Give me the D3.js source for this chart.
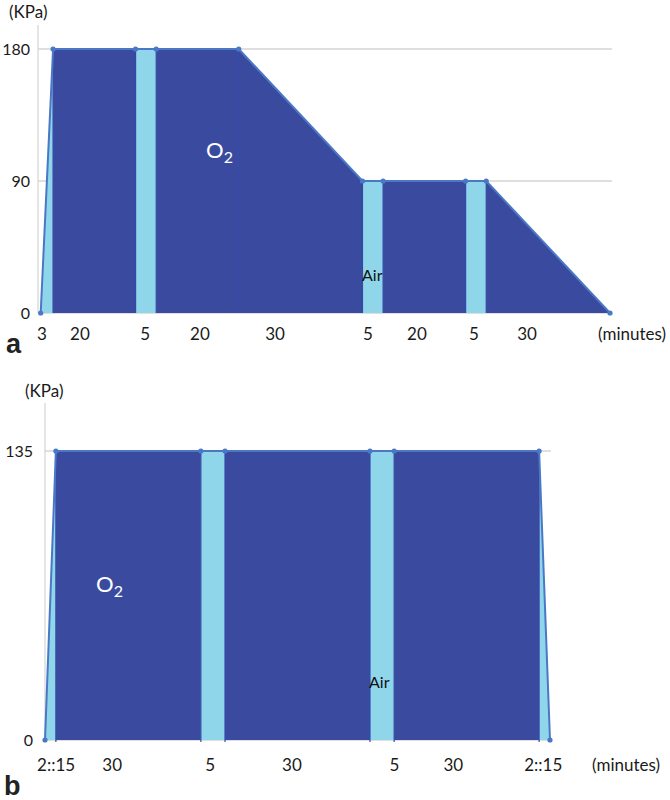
<!DOCTYPE html>
<html><head><meta charset="utf-8">
<script src="https://cdn.jsdelivr.net/npm/d3@7"></script>
<style>
body{margin:0;background:#fff;}
text{font-family:Lato,"Open Sans",sans-serif;}
</style></head>
<body><svg id="c" width="670" height="800"></svg>
<script>
// ---- Panel a data ----
const durationsA = [3, 20, 5, 20, 30, 5, 20, 5, 30];           // minutes
const pressuresA = [0, 180, 180, 180, 180, 90, 90, 90, 90, 0];  // KPa at each vertex
const gasA = ["Air","O2","Air","O2","O2","Air","O2","Air","O2"];
const labelsA = ["3","20","5","20","30","5","20","5","30"];
const labelAtA = [0.3, 9.5, 25.3, 38.6, 56.8, 79.3, 91.2, 105, 117.9]; // minutes
const yTicksA = [0, 90, 180];

// ---- Panel b data ----
const durationsB = [2.25, 30, 5, 30, 5, 30, 2.25];
const pressuresB = [0, 135, 135, 135, 135, 135, 135, 0];
const gasB = ["Air","O2","Air","O2","Air","O2","Air"];
const labelsB = ["2::15","30","5","30","5","30","2::15"];
const labelAtB = [2.3, 13.9, 34.2, 51.1, 72.3, 84.5, 103.1];
const yTicksB = [0, 135];

const DARK = "#3a4b9f", LIGHT = "#8fd6ea", EDGE = "#4b78c6", GRID = "#d4d4d4";
const FS = 17;
const svg = d3.select("#c");

function panel(cfg){
  const times = [0, ...d3.cumsum(cfg.durations)];
  const total = times[times.length-1];
  const x = d3.scaleLinear().domain([0,total]).range([cfg.x0, cfg.x1]);
  const y = d3.scaleLinear().domain([0,cfg.ymax]).range([cfg.y0, cfg.y1]);
  const g = svg.append("g");

  g.append("line").attr("x1",cfg.axisX).attr("x2",cfg.axisX)
    .attr("y1",cfg.axisTop).attr("y2",y(0)).attr("stroke",GRID).attr("stroke-width",1.2);
  g.selectAll("line.grid").data(cfg.yTicks).join("line").attr("class","grid")
    .attr("x1",cfg.axisX).attr("x2",cfg.gridEnd)
    .attr("y1",d=>y(d)).attr("y2",d=>y(d)).attr("stroke",GRID).attr("stroke-width",1.5);

  const area = d3.area().x(d=>x(d[0])).y0(y(0)).y1(d=>y(d[1]));
  cfg.durations.forEach((d,i)=>{
    g.append("path")
      .attr("d", area([[times[i],cfg.pressures[i]],[times[i+1],cfg.pressures[i+1]]]))
      .attr("fill", cfg.gas[i]==="Air" ? LIGHT : DARK);
  });
  g.selectAll("line.edge").data(times.slice(1,-1)).join("line").attr("class","edge")
    .attr("x1",d=>x(d)).attr("x2",d=>x(d))
    .attr("y1",(d,i)=>y(cfg.pressures[i+1])).attr("y2",y(0)+cfg.edgeExt)
    .attr("stroke","#3448a8").attr("stroke-width",1.2);
  const pts = times.map((t,i)=>[t,cfg.pressures[i]]);
  g.append("path").attr("d", d3.line().x(d=>x(d[0])).y(d=>y(d[1]))(pts))
    .attr("fill","none").attr("stroke",EDGE).attr("stroke-width",2);
  g.selectAll("circle").data(pts).join("circle")
    .attr("cx",d=>x(d[0])).attr("cy",d=>y(d[1])).attr("r",2.6).attr("fill",EDGE);

  g.selectAll("text.yt").data(cfg.yTicks).join("text").attr("class","yt")
    .attr("x",cfg.yLabelX).attr("y",d=>y(d)+6).attr("text-anchor","end")
    .attr("font-size",16).attr("fill","#1a1a1a").text(d=>d);
  g.append("text").attr("x",cfg.unitX).attr("y",cfg.unitY).attr("font-size",FS)
    .attr("fill","#1a1a1a").text("(KPa)");

  g.selectAll("text.xl").data(cfg.labels).join("text").attr("class","xl")
    .attr("x",(d,i)=>x(cfg.labelAt[i])).attr("y",cfg.xLabelY).attr("text-anchor","middle")
    .attr("font-size",FS).attr("fill","#1a1a1a").text(d=>d);
  g.append("text").attr("x",cfg.minutesX).attr("y",cfg.xLabelY).attr("font-size",FS)
    .attr("fill","#1a1a1a").text("(minutes)");

  const o = g.append("text").attr("x",cfg.o2[0]).attr("y",cfg.o2[1]).attr("font-size",22).attr("fill","#fff");
  o.append("tspan").text("O");
  o.append("tspan").attr("dy",5).attr("font-size",16).text("2");
  g.append("text").attr("x",cfg.air[0]).attr("y",cfg.air[1]).attr("font-size",16)
    .attr("fill","#111").text("Air");

  svg.append("text").attr("x",cfg.letter[0]).attr("y",cfg.letter[1])
    .style("font-family","'Liberation Sans',Arial,sans-serif").attr("font-weight","bold")
    .attr("font-size",27).attr("fill","#222").text(cfg.letter[2]);
}

panel({durations:durationsA, pressures:pressuresA, gas:gasA, labels:labelsA, labelAt:labelAtA,
  yTicks:yTicksA, ymax:180, x0:40.7, x1:610, y0:313, y1:49, axisX:38, axisTop:25, gridEnd:612,
  edgeExt:0, yLabelX:30, unitX:9, unitY:18, xLabelY:340, minutesX:598,
  o2:[206,158], air:[362,281], letter:[6,353,"a"]});

panel({durations:durationsB, pressures:pressuresB, gas:gasB, labels:labelsB, labelAt:labelAtB,
  yTicks:yTicksB, ymax:135, x0:45, x1:550, y0:740, y1:451, axisX:45, axisTop:403, gridEnd:551,
  edgeExt:2, yLabelX:33, unitX:25, unitY:397, xLabelY:771, minutesX:592,
  o2:[96,592], air:[369,688], letter:[4,795,"b"]});
</script></body></html>
